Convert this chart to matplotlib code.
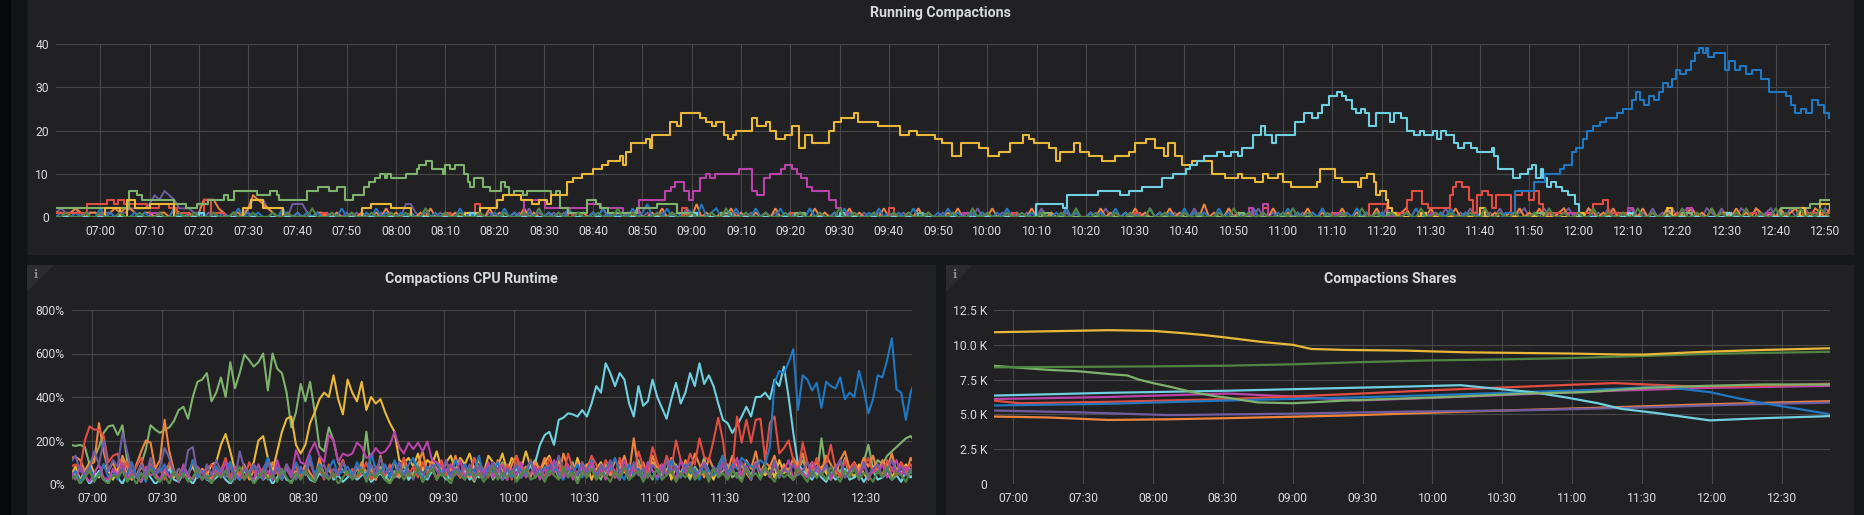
import numpy as np
import matplotlib
matplotlib.use('Agg')
import matplotlib.pyplot as plt
from matplotlib.patches import Rectangle, Polygon

plt.rcParams['font.family'] = ['Roboto', 'DejaVu Sans']

# ---------------- colours (Grafana classic palette) ----------------
C_GREEN = '#7EB26D'; C_YELLOW = '#EAB839'; C_CYAN = '#6ED0E0'; C_ORANGE = '#EF843C'
C_RED = '#E24D42'; C_BLUE = '#1F78C1'; C_PINK = '#BA43A9'; C_PURPLE = '#705DA0'; C_DKGREEN = '#508642'

# ---------------- DATA ----------------
# time is in minutes after 07:00
# ---- Running Compactions (step series: (minute, value) change points)
run_green = [(-9,2),(5.8,6),(7.5,5),(8.5,4),(15,3),(17.4,2),(19.6,3),(21.9,4),(25,5),(26,4),(27.2,6),(31.7,5),
             (34.5,6),(35.8,5),(36.2,4),(42,6),(44.2,7),(46.4,6),(48,7),(49.6,4),(51.3,5),(53.6,7),(54.5,8),(55.8,9),
             (56.7,10),(57.7,9),(58.2,10),(58.9,9),(62,10),(64.3,11),(64.7,12),(66,13),(67.4,11),(69.6,10),(70,12),
             (71,11),(71.9,12),(73.7,10),(74.6,8),(75,7),(75.9,9),(77.7,7),(79,6),(81.3,8),(82.1,7),(83,5),(83.9,6),
             (85.7,5),(86.6,6),(91.5,5),(92.4,6),(93.3,2),(95,1),(98.7,4),(100.5,3),(101.3,2),(103,1),(109,2),(113,3),
             (117,1),(121,0),(126,1),(128,0),(141,1),(143,0),(166,1),(167,0),(191,1),(193,0),(231,1),(232,0),(261,1),
             (263,0),(291,1),(293,0),(321,1),(323,0),(341,2),(347,3),(349,4),(351,4)]
run_yellow = [(-9,0),(1,2),(4,0),(5.5,4),(7,2),(10,3),(15,0),(29,2),(30.5,4),(33,2),(37,0),(53,2),(55,3),(59,2),(63,0),
              (74,1),(77,2),(80.4,4),(81.7,5),(85.3,4),(87.5,3),(89,4),(90.7,3),(91.5,5),(94.6,8),(96,9),(97.8,10),
              (100,11),(101.8,12),(103.1,13),(105.4,14),(106,12),(106.7,15),(107.6,17),(110.7,18),(111.6,16),(112,19),
              (115.6,22),(117.1,21),(117.9,24),(121.6,23),(122.9,22),(124.2,21),(125,22),(126.5,19),(127.4,18),(128.3,19),
              (129,20),(132.3,23),(133.2,21),(135,22),(135.9,20),(137.2,18),(139,19),(140.4,21),(141.7,16),(143,19),
              (144.4,17),(147.9,20),(148.8,22),(150.2,23),(152.9,24),(153.8,22),(157.8,21),(162.2,19),(164,20),
              (165.8,19),(169.4,18),(170.7,17),(172.9,14),(174.7,17),(178.3,16),(180.1,14),(182.3,15),(184.6,17),
              (187.2,19),(188.4,18),(189.5,17),(192.6,16),(193.9,13),(194.8,15),(197.5,17),(198.8,15),(200.6,14),
              (203.3,13),(206,14),(208.7,15),(210,17),(212.2,18),(214,16),(215.8,14),(216.7,17),(218,14),(219.4,12),
              (221.6,13),(225.6,10),(228.3,9),(230.9,10),(231.7,9),(234.3,8),(236,10),(237,9),(239,10),(239.9,8),
              (241.6,7),(246.8,8),(247.6,11),(249.8,11),(250.6,9),(251.9,8),(255.3,7),(255.8,9),(257.1,10),(258.4,8),
              (258.8,5),(259.6,6),(260.9,4),(261.4,2),(262.2,1),(263,0),(268,1),(269,0),(280,2),(281,0),(300,1),(301,0),
              (318,2),(319,0),(330,1),(331,0),(345,2),(346,0),(349,3),(351,2)]
run_pink = [(-9,0),(0,1),(1,0),(10,1),(12,0),(86,4),(90.2,2),(94.2,2),(98.7,3),(101.5,2),(106,1),(109.4,4),(111.3,4),
            (114.5,6),(115.8,7),(116.7,8),(118.5,6),(119.4,4),(120.3,6),(121.6,9),(122.9,10),(123.8,9),(124.7,10),
            (129.6,11),(132.3,6),(133.2,5),(134.6,9),(135.9,10),(138.1,11),(139,12),(140.4,11),(141.3,10),(142.1,9),
            (143.5,7),(144.4,6),(147.9,4),(149.3,2),(150.2,1),(151.5,0),(175,1),(176,0),(233,2),(234,0),(236,3),(237,0),
            (251,1),(252,0),(270,1),(271,0),(298,1),(299,0),(310,2),(311,0),(322,2),(323,0),(338,1),(339,0),(351,0)]
run_cyan = [(-9,0),(20,1),(21,0),(75,1),(76,0),(120,1),(121,0),(150,1),(151,0),(189.9,3),(195.3,2),(196.2,5),(202.4,6),
            (206.9,5),(208.7,6),(211.3,7),(215.4,9),(217.6,10),(220.3,11),(221.2,12),(222.5,13),(224,14),(226.6,15),
            (228,14),(229.5,15),(230.9,14),(231.7,16),(233.9,19),(235.6,21),(236.4,19),(237.7,17),(238.6,19),(242.5,22),
            (244.2,24),(245.9,23),(247,24),(248,26),(249.3,28),(251,29),(251.9,28),(252.8,27),(254.1,25),(254.9,24),
            (255.8,25),(256.6,24),(257.5,21),(258.8,24),(261.8,22),(262.6,24),(264,23),(265.2,20),(266.5,19),(267.8,20),
            (268.7,19),(270.4,20),(271.2,18),(272.1,20),(273,19),(274.7,17),(275.5,16),(276.8,17),(278.1,16),(279.4,15),
            (282.4,16),(282.8,14),(283.7,11),(286.7,9),(288,10),(289.7,11),(290.6,12),(291.4,9),(292.3,11),(292.7,9),
            (293.6,7),(294.4,8),(295.3,7),(296.6,6),(297.9,5),(299.2,3),(300,0),(310,1),(311,0),(330,1),(331,0),(351,0)]
run_red = [(-9,1),(-2.7,3),(1.3,4),(2.7,3),(3.6,4),(4.9,3),(9.4,2),(12,3),(14,2),(15.6,1),(18,0),(21,4),(22.5,1),(25,0),
           (45,1),(46,0),(70,1),(71,0),(76,3),(77,0),(95,1),(96,0),(118,2),(119,0),(140,1),(141,0),(160,2),(161,0),
           (185,1),(186,0),(210,1),(211,0),(236,2),(237,0),(250,1),(251,0),(257.5,3),(261,1),(265.2,4),(266.1,6),
           (268.2,3),(269.5,2),(273.8,5),(274.5,7),(275.1,8),(276.4,7),(277.7,4),(278.5,1),(279.4,5),(280.3,6),
           (281.5,5),(282.4,2),(283.3,5),(286.3,1),(287.1,5),(288.5,6),(290,4),(291,6),(291.9,3),(292.7,1),(303,3),
           (305,4),(306,1),(310,0),(320,1),(321,0),(335,1),(336,0),(345,2),(346,1),(351,1)]
run_blue = [(284,0),(285,1),(287.1,6),(291,8),(293.1,10),(296.2,11),(297,12),(298.7,15),(299.5,16),(300.9,18),(301.7,20),
            (303,21),(304.3,22),(305.6,23),(307.7,24),(309,25),(310.8,27),(311.6,29),(312.5,27),(313.3,26),(314.2,28),
            (315.3,27),(316.3,29),(317.2,31),(318.1,30),(318.9,32),(319.8,34),(320.6,33),(321.8,34),(322.8,36),
            (323.6,38),(324.5,39),(325.3,38),(325.8,39),(326.2,37),(327.5,38),(329.7,34),(330.5,36),(331.8,34),
            (332.7,35),(334,33),(335.2,34),(337,32),(338.7,29),(342.1,28),(343,26),(343.8,24),(345.1,25),(346.2,24),
            (347.3,27),(348.6,26),(349.8,24),(350.7,23),(351,23)]
# one value per minute, starting 06:51
run_purple_min = [1,2,1,1,2,0,1,1,1,0, 1,1,0,1,1,2,2,2,2,3, 5,4,6,5,4,2,2,2,1,1,
                  0,1,0,1,1,0,1,0,1,2, 4,4,4,2,1,0,1,0,3,3, 3,1,0,1,0,1,0,1,0,1,
                  0,1,0,1,0,0,1,0,1,0, 0,3,3,1,0,1,0,0,1,0, 1,0,0,1,0,1,0,0,1,0,
                  0,1,0,0,1,0,2,0,1,0, 0,1,0,1,0,0,1,0,0,1, 0,0,1,0,1,0,0,1,0,0,
                  1,0,0,1,0,1,0,0,2,0, 1,0,0,1,0,0,1,0,1,0, 0,1,0,0,1,0,1,0,0,1,
                  0,1,0,2,0,0,1,0,1,0, 0,1,0,0,1,0,0,1,0,1, 0,0,1,0,0,2,0,1,0,0,
                  1,0,1,0,0,1,0,2,0,1, 0,0,1,0,1,0,0,1,0,0, 2,0,1,0,0,1,0,1,0,0,
                  1,0,0,2,0,1,0,0,1,0, 1,0,2,0,1,0,0,1,0,1, 0,2,0,1,0,0,1,0,2,0,
                  1,0,1,0,2,0,0,1,0,1, 0,2,0,1,0,1,0,2,0,1, 0,1,0,0,2,0,1,0,1,0,
                  2,0,1,0,1,0,2,0,1,0, 1,0,2,0,0,1,0,2,0,1, 0,1,0,2,0,1,0,1,2,0,
                  1,0,2,0,1,0,1,2,0,1, 0,2,0,1,0,2,0,1,0,1, 2,0,1,0,2,0,1,0,2,0,
                  1,2,0,1,0,2,1,0,2,0, 1,0,2,1,0,2,0,1,2,0, 1,0,2,0,1,2,0,1,0,2,1]
run_orange_min = [1,1,0,1,2,1,0,1,1,0, 0,1,2,1,2,2,1,0,1,1, 0,1,1,0,2,1,0,1,0,1,
                  4,4,4,2,1,0,1,1,0,2, 5,4,3,2,1,0,0,1,0,1, 0,1,0,1,1,0,0,1,0,0,
                  1,0,1,0,0,1,0,2,0,1, 0,0,1,0,1,0,2,0,0,1, 0,1,0,0,1,0,1,0,2,0,
                  1,0,0,1,0,2,0,1,0,0, 1,0,1,0,2,0,0,1,0,1, 0,2,0,1,0,0,1,0,2,0,
                  0,1,0,2,0,1,0,0,1,0, 3,0,1,0,0,1,0,2,0,1, 0,0,1,0,1,0,2,0,0,1,
                  0,1,0,0,2,0,1,0,1,0, 0,2,0,1,0,0,1,0,2,0, 1,0,0,1,0,2,0,1,0,0,
                  0,1,0,2,0,0,1,0,1,0, 2,0,0,1,0,1,0,0,2,0, 1,0,1,0,0,2,0,1,0,0,
                  1,0,2,0,1,0,0,1,0,2, 0,1,0,0,1,0,2,0,1,0, 0,1,0,3,0,1,0,0,2,0,
                  1,0,0,2,0,1,0,2,0,0, 1,0,1,0,2,0,0,1,0,1, 0,2,0,0,1,0,1,0,2,0,
                  0,1,0,1,2,0,0,1,0,2, 0,1,0,0,2,0,1,0,1,0, 2,0,1,0,0,1,0,2,0,1,
                  0,2,0,1,0,1,2,0,0,1, 0,2,1,0,1,0,2,0,1,0, 1,0,2,0,1,0,0,2,0,1,
                  0,1,2,0,1,0,2,0,1,1, 0,2,0,1,0,2,1,0,1,0, 2,0,1,2,0,1,0,2,1,0,2]
run_blue_min = [0,1,0,0,1,0,1,0,0,2, 0,1,0,1,0,0,1,0,1,0, 0,1,0,0,2,0,1,0,0,1,
                0,0,1,0,1,0,0,2,0,1, 0,1,0,0,1,0,2,0,0,1, 0,1,0,1,0,0,1,0,2,0,
                1,0,0,1,0,2,0,1,0,0, 1,0,1,0,0,2,0,1,0,1, 0,0,2,0,1,0,1,0,0,1,
                0,2,0,1,0,0,1,0,2,0, 1,0,1,0,2,0,1,0,0,1, 0,2,0,1,0,1,0,2,0,1,
                3,0,1,0,2,0,1,0,2,1, 0,3,0,1,2,0,1,0,2,0, 1,0,2,0,1,0,0,2,0,1,
                0,1,0,2,0,1,0,0,1,0, 2,0,1,0,0,1,0,2,0,1, 0,1,0,0,2,0,1,0,0,1,
                0,2,0,1,0,0,1,0,1,0, 0,1,0,2,0,1,0,0,1,0, 1,0,0,1,0,2,0,1,0,0,
                1,0,1,0,0,2,0,1,0,1, 0,0,2,0,1,0,1,0,0,2, 0,1,0,1,0,0,2,0,1,0,
                0,1,0,2,0,1,0,0,1,0, 2,0,1,0,0,1,0,2,0,1, 0,0,1,0,2,0,1,0,0,1,
                0,1,0,0,1,0,2,0,1,0, 0,1,0,2,0,0,1,0,1,0, 0]
run_dkgreen_min = [0,0,1,0,0,0,1,0,0,1, 0,0,0,1,0,0,0,1,0,0, 0,1,0,0,0,1,0,0,1,0,
                   0,0,1,0,0,0,1,0,0,0, 1,0,0,0,1,0,0,1,0,0, 0,0,2,0,0,0,1,0,0,0,
                   1,0,0,0,1,0,0,0,1,0, 0,1,0,0,0,2,0,0,0,1, 0,0,1,0,0,0,1,0,0,0,
                   0,1,0,0,0,1,0,0,2,0, 0,0,1,0,0,0,1,0,0,0, 1,0,0,0,2,0,0,1,0,0,
                   0,0,1,0,0,1,0,0,0,1, 0,0,0,1,0,0,2,0,0,0, 1,0,0,0,1,0,0,0,1,0,
                   0,1,0,0,0,1,0,0,0,2, 0,0,1,0,0,0,1,0,0,0, 1,0,0,1,0,0,0,1,0,0,
                   0,0,1,0,0,0,2,0,0,1, 0,0,0,1,0,0,1,0,0,0, 1,0,0,0,1,0,0,2,0,0,
                   0,1,0,0,0,1,0,0,1,0, 0,0,2,0,0,1,0,0,0,1, 0,0,1,0,0,0,1,0,0,2,
                   0,0,1,0,0,1,0,0,0,1, 0,2,0,0,1,0,0,0,1,0, 0,1,0,0,0,2,0,0,1,0,
                   0,1,0,0,1,0,0,2,0,0, 1,0,0,1,0,0,0,1,0,0, 2,0,0,1,0,0,1,0,0,0,
                   1,0,0,2,0,0,1,0,0,1, 0,0,2,0,0,1,0,0,1,0, 0,2,0,0,1,0,0,1,0,0,
                   2,0,0,1,0,0,2,0,1,0, 0,1,0,2,0,0,1,0,0,2, 0,1,0,0,2,0,1,0,2,1,0]

# ---- Compactions CPU Runtime (%), one value every 2 minutes starting 06:51
cpu_green = [180,175,180,170,90,120,170,235,265,270,225,270,110,60,40,90,160,270,250,235,250,260,290,340,355,300,400,
             470,480,510,380,420,490,400,560,440,510,595,570,540,560,600,430,600,530,510,420,260,330,460,380,470,330,
             170,150,260,200,100,60,40,
             30,70,50,240,60,20,80,40,10,60, 30,90,20,50,70,10,40,80,20,60, 50,20,70,30,90,40,10,60,30,80,
             20,50,100,30,60,20,70,40,90,30, 60,20,50,80,30,70,40,100,20,60, 30,80,50,20,90,40,60,20,70,30,
             50,110,30,60,20,80,40,70,30,90, 40,60,20,80,50,120,30,70,40,60, 90,30,50,20,80,40,100,30,60,50,
             70,30,90,40,20,60,110,50,80,30, 210,60,40,90,50,120,30,80,60,100, 180,70,110,90,130,150,170,190,210,220,195]
cpu_yellow = [40,80,20,60,100,50,30,90,60,20, 70,110,40,60,30,80,50,90,40,20, 60,90,30,70,40,50,80,30,60,40, 90,
              100,180,230,150,60,40,80,50,100,200, 220,120,60,150,240,300,310,180,140,180, 280,330,390,420,400,500,390,
              320,480,420, 380,470,340,400,370,390,330,280,240,110, 95,
              120,80,140,60,110,90,150,70,100,130, 60,120,90,140,70,110,50,130,100,80, 140,60,120,90,70,150,80,110,60,100,
              130,
              60,110,30,80,40,120,50,90,20,70, 100,40,80,30,110,60,20,90,50,70, 30,100,60,40,120,20,80,50,90,30,
              70,40,110,60,20,80,130,40,70,30, 90,50,20,100,60,40,80,30,110,50, 70,20,90,40,60,100,30,80,50,20,
              60,110,40,70,30,90,50,20,80,60, 40,100,30,70,50,90,60,80]
cpu_cyan = [20,50,10,40,0,30,60,20,10,40, 30,0,50,20,40,10,60,30,0,20, 40,70,20,10,50,30,0,40,60,20,
            10,30,50,20,0,40,20,60,30,10, 50,20,40,0,30,60,20,10,40,30, 60,20,10,50,30,70,20,40,10,30,
            50,20,40,60,10,30,50,20,70,40, 30,60,20,50,100,40,20,60,30,50, 20,40,70,30,60,20,50,30,40,80,
            30,60,20,50,40,70,30,60,
            80,100,180,225,240,180,295,305,325,320,310,340,310,370,450,420,555,510,450,510,480,370,310,450,360,380,
            480,400,350,300,390,465,370,420,510,450,555,460,500,450,370,295,280,235,270,310,355,310,400,400,420,390,
            480,450,540,400,235,90,65,
            40,20,60,30,10,50,20,40,70,20,30,50,10,40,60,20,30,50,20,40,10,60,30,50]
cpu_orange = [120,125,110,60,90,100,280,150,60,100, 40,130,80,20,90,150,200,190,70,110, 295,150,60,20,80,40,100,30,70,50,
              20,80,40,60,100,30,50,90,20,60, 40,70,30,100,50,20,80,40,60,30, 90,50,20,120,40,70,30,60,110,40,
              60,30,100,50,80,20,130,40,70,100, 30,120,60,40,90,150,50,110,70,40, 100,60,130,40,80,30,120,70,50,90,
              40,110,60,20,90,130,50,80,30,100, 60,120,40,90,30,140,70,50,100,40, 80,120,30,90,60,40,110,70,130,50,
              210,60,100,40,130,70,90,50,120,80, 40,110,60,140,90,30,120,70,50,100, 60,130,80,40,110,70,150,50,100,80,
              130,40,90,60,120,80,140,50,70,100, 60,130,90,40,110,150,70,100,60,120, 80,130,50,110,70,140,60,100,40,120,90]
cpu_red = [80,90,70,200,265,250,250,220,100,130, 140,60,100,40,80,120,30,90,50,70, 20,100,60,40,80,30,110,50,20,70,
           90,40,60,120,30,80,50,20,100,60, 30,70,110,40,60,20,90,50,80,30, 60,100,40,70,20,90,30,60,110,40,
           70,30,50,100,20,80,60,40,90,30, 60,120,40,80,30,100,50,70,20,110, 40,90,60,30,80,50,120,40,70,30,
           100,60,40,90,20,130,70,50,110,40, 80,30,120,60,90,40,140,70,50,100, 60,130,90,40,110,70,30,120,60,90,
           40,150,80,60,170,100,50,130,70,200, 110,60,140,90,210,125,110,200,305,200, 30,60,310,190,295,190,295,300,110,280,
           310,140,165,200,110,50,190,100,60,120, 40,90,180,70,30,110,60,100,40,80, 120,50,90,30,110,70,40,100,60,90,50]
cpu_blue = [30,60,10,50,80,20,40,90,30,60, 20,70,40,100,30,50,10,80,40,60, 90,30,50,20,70,40,110,30,60,20,
            50,80,30,60,100,40,20,70,50,90, 30,60,120,40,80,20,70,30,100,50, 60,130,40,90,30,70,110,40,60,80,
            40,100,60,30,140,70,50,90,30,110, 60,40,90,120,50,30,80,60,100,40, 70,30,110,50,90,40,60,130,30,80,
            50,100,40,70,30,90,60,40,110,50, 30,80,60,100,40,20,70,50,90,30, 60,110,40,80,30,70,120,50,20,90,
            40,70,30,100,60,20,80,40,110,60, 30,90,50,70,20,100,60,40,80,130, 50,90,70,120,
            100,80,80,110,90,170,465,520,510,560,620,340,500,480,430,465,350,470,450,440,490,390,420,400,520,435,325,
            390,500,490,570,670,435,420,295,420,480]
cpu_pink = [60,20,80,40,10,50,90,30,20,70, 40,100,20,60,30,10,80,40,50,20, 70,30,60,10,90,40,20,80,50,30,
            10,60,40,100,20,50,30,70,40,20, 90,30,60,20,110,40,70,30,
            155,100,90,150,190,130,100,225,200,100,140,130,140,190,170,120,130,165,140,150,180,240,170,140,190,160,190,
            150,195,110,100,80,
            60,90,40,110,30,70,20,80,50,100, 30,60,90,20,70,40,100,30,50,80, 20,70,40,110,60,30,90,20,50,80,
            40,100,30,70,20,90,60,40,110,30, 80,50,20,100,60,30,90,40,70,20, 110,50,80,30,60,100,20,70,40,90,
            30,60,120,40,80,20,100,50,70,30, 90,40,60,110,20,80,50,30,100,60, 40,90,20,70,110,30,60,80,40,100,
            20,70,50,90,30,60,110,40,80,50,70]
cpu_purple = [100,130,60,40,80,150,90,200,60,110, 80,235,150,60,30,90,40,120,50,80, 165,120,40,70,30,155,170,50,20,90,
              40,110,60,30,80,20,150,70,40,90, 60,20,100,40,70,30,90,50,20,80, 40,110,30,60,90,20,70,40,100,50,
              30,80,60,20,90,40,120,50,70,30, 100,40,60,20,80,50,30,90,60,40, 110,30,70,50,20,90,40,80,30,60,
              100,40,20,70,50,90,30,60,110,40, 70,20,90,50,130,60,30,80,40,100, 50,70,30,90,60,110,40,20,80,50,
              100,40,70,30,90,60,20,110,50,80, 30,70,100,40,60,90,20,80,50,110, 40,70,30,100,60,20,90,50,80,40,
              110,30,70,50,90,40,60,100,30,80, 50,90,40,70,110,30,60,80,20,100, 40,70,90,30,60,110,50,80,40,70,30]
cpu_dkgreen = [20,40,0,30,60,10,50,20,0,40, 30,60,10,40,0,50,20,70,30,10, 40,0,60,20,50,10,30,70,20,40,
               0,50,30,60,10,40,80,20,50,0, 30,60,20,40,10,70,30,0,50,20, 60,30,10,80,40,20,50,0,30,60,
               20,40,70,10,50,30,60,20,0,40, 60,20,50,30,80,10,40,70,20,50, 30,0,60,40,20,70,30,50,10,40,
               80,20,50,30,60,10,40,70,20,30, 50,10,60,40,20,80,30,50,0,60, 30,70,20,50,40,10,60,30,80,20,
               40,60,10,50,30,70,20,40,60,10, 50,30,80,20,40,60,10,70,30,50, 20,60,40,10,70,30,50,20,80,40,
               10,60,30,50,20,70,40,10,60,30, 50,20,80,40,10,60,30,70,20,50, 40,10,60,30,80,20,50,40,10,60,30]

# ---- Compactions Shares (thousands), (minute, value) points
sh_yellow = [(-9,10.9),(41,11.05),(60,11.0),(72,10.85),(82,10.7),(90,10.55),(107,10.2),(120,10.0),(128,9.7),(143,9.63),
             (169,9.58),(194,9.46),(240,9.37),(261,9.3),(271,9.3),(297,9.5),(322,9.63),(351,9.75)]
sh_dkgreen = [(-9,8.38),(60,8.45),(92,8.5),(120,8.6),(148,8.75),(179,8.88),(210,8.95),(240,9.05),(271,9.2),(299,9.35),
              (351,9.5)]
sh_green = [(-9,8.5),(15,8.2),(28,8.1),(41,7.9),(49,7.8),(54,7.5),(60,7.25),(67,7.0),(77,6.6),(87,6.3),(92,6.2),
            (105,5.86),(120,5.8),(143,6.0),(169,6.15),(194,6.3),(220,6.5),(246,6.6),(271,6.9),(297,7.05),(322,7.15),
            (351,7.15)]
sh_cyan = [(-9,6.35),(41,6.55),(92,6.7),(143,6.9),(169,7.0),(192,7.1),(210,6.8),(223,6.6),(238,6.2),(251,5.8),
           (261,5.4),(276,5.1),(289,4.8),(299,4.57),(322,4.73),(351,4.88)]
sh_blue = [(-9,5.64),(41,5.76),(92,6.0),(143,6.2),(194,6.45),(246,6.75),(279,7.0),(286,6.85),(299,6.6),(310,6.2),
           (322,5.8),(335,5.45),(351,5.0)]
sh_red = [(-9,6.0),(3,5.8),(41,5.9),(92,6.1),(143,6.45),(182,6.75),(220,7.0),(258,7.25),(279,7.1),(292,7.0),(322,7.05),
          (351,7.2)]
sh_pink = [(-9,6.1),(41,6.25),(92,6.5),(118,6.3),(148,6.0),(182,6.2),(220,6.45),(258,6.7),(297,6.9),(351,7.05)]
sh_purple = [(-9,5.28),(28,5.15),(67,4.95),(118,5.05),(169,5.2),(220,5.3),(271,5.5),(310,5.7),(351,5.85)]
sh_orange = [(-9,4.85),(15,4.78),(41,4.6),(67,4.65),(92,4.73),(143,4.92),(194,5.2),(246,5.45),(297,5.72),(351,5.95)]

top_yticks = [0, 10, 20, 30, 40]
cpu_yticks = [0, 200, 400, 600, 800]
sh_yticks = [0, 2.5, 5.0, 7.5, 10.0, 12.5]
sh_ylabels = ['0', '2.5 K', '5.0 K', '7.5 K', '10.0 K', '12.5 K']

# ---------------- FIGURE ----------------
W, H = 1864, 515
fig = plt.figure(figsize=(W / 100, H / 100), dpi=100, facecolor='#161719')

BG_PANEL = '#212124'
TXT = '#d8d9da'
GRID = '#48484b'


def rect(x0, y0, x1, y1, color, z=0):
    fig.add_artist(Rectangle((x0 / W, 1 - y1 / H), (x1 - x0) / W, (y1 - y0) / H,
                             transform=fig.transFigure, facecolor=color, edgecolor='none', zorder=z))


rect(0, 0, 11, H, '#08090a')
rect(11, 0, 27, H, '#121315')
rect(28, 0, 1854, 255, BG_PANEL)
rect(27, 265, 936, H, BG_PANEL)
rect(946, 265, 1854, H, BG_PANEL)
for x0 in (27, 946):
    fig.add_artist(Polygon([(x0 / W, 1 - 265 / H), ((x0 + 27) / W, 1 - 265 / H), (x0 / W, 1 - 292 / H)],
                           closed=True, transform=fig.transFigure, facecolor='#2c2c2f', edgecolor='none'))
    fig.text((x0 + 9) / W, 1 - 274 / H, 'i', family='DejaVu Serif', weight='bold', fontsize=8,
             color='#8e8f92', ha='center', va='center')

fig.text(940 / W, 1 - 13 / H, 'Running Compactions', ha='center', va='center', fontsize=10.2,
         color=TXT, weight='bold')
fig.text(471 / W, 1 - 279 / H, 'Compactions CPU Runtime', ha='center', va='center', fontsize=10.2,
         color=TXT, weight='bold')
fig.text(1390 / W, 1 - 279 / H, 'Compactions Shares', ha='center', va='center', fontsize=10.2,
         color=TXT, weight='bold')


def add_ax(x0, y0, x1, y1):
    ax = fig.add_axes([x0 / W, 1 - y1 / H, (x1 - x0) / W, (y1 - y0) / H])
    ax.set_facecolor('none')
    for s in ax.spines.values():
        s.set_visible(False)
    ax.tick_params(length=0, colors=TXT, labelsize=8.7)
    ax.tick_params(axis='y', pad=5)
    ax.tick_params(axis='x', pad=6)
    ax.grid(True, color=GRID, linewidth=0.8)
    ax.set_axisbelow(True)
    return ax


def hhmm(m):
    tot = 7 * 60 + int(round(m))
    return f'{tot // 60:02d}:{tot % 60:02d}'


# ---- top panel
ax1 = add_ax(56, 44, 1830, 217)
for lst, col in [(run_purple_min, C_PURPLE), (run_orange_min, C_ORANGE), (run_blue_min, C_BLUE)]:
    t = -9 + np.arange(len(lst))
    ax1.plot(t, lst, color=col, lw=1.4, solid_joinstyle='miter')
for pts, col in [(run_red, C_RED), (run_pink, C_PINK), (run_green, C_GREEN), (run_yellow, C_YELLOW),
                 (run_cyan, C_CYAN), (run_blue, C_BLUE)]:
    t, v = zip(*pts)
    ax1.step(t, v, where='post', color=col, lw=1.5)
t = -9 + np.arange(len(run_dkgreen_min))
ax1.plot(t, run_dkgreen_min, color=C_DKGREEN, lw=1.4)
ax1.set_xlim(-9, 351)
ax1.set_ylim(0, 40)
ax1.set_yticks(top_yticks)
ax1.set_yticklabels([str(v) for v in top_yticks])
top_xt = list(range(0, 351, 10))
ax1.set_xticks(top_xt)
ax1.set_xticklabels([hhmm(m) for m in top_xt])

# ---- CPU runtime panel
ax2 = add_ax(71.5, 310, 912, 484)
for lst, col in [(cpu_green, C_GREEN), (cpu_yellow, C_YELLOW), (cpu_cyan, C_CYAN), (cpu_orange, C_ORANGE),
                 (cpu_red, C_RED), (cpu_blue, C_BLUE), (cpu_pink, C_PINK), (cpu_purple, C_PURPLE),
                 (cpu_dkgreen, C_DKGREEN)]:
    t = -9 + 2 * np.arange(len(lst))
    ax2.plot(t, lst, color=col, lw=1.5)
ax2.set_xlim(-8.7, 349.6)
ax2.set_ylim(0, 800)
ax2.set_yticks(cpu_yticks)
ax2.set_yticklabels([f'{v}%' for v in cpu_yticks])
bot_xt = list(range(0, 331, 30))
ax2.set_xticks(bot_xt)
ax2.set_xticklabels([hhmm(m) for m in bot_xt])

# ---- Shares panel
ax3 = add_ax(994, 310, 1829.5, 484)
for pts, col in [(sh_orange, C_ORANGE), (sh_purple, C_PURPLE), (sh_pink, C_PINK), (sh_red, C_RED),
                 (sh_blue, C_BLUE), (sh_cyan, C_CYAN), (sh_green, C_GREEN), (sh_dkgreen, C_DKGREEN),
                 (sh_yellow, C_YELLOW)]:
    t, v = zip(*pts)
    ax3.plot(t, v, color=col, lw=1.6)
ax3.set_xlim(-8.2, 350.4)
ax3.set_ylim(0, 12.5)
ax3.set_yticks(sh_yticks)
ax3.set_yticklabels(sh_ylabels)
ax3.set_xticks(bot_xt)
ax3.set_xticklabels([hhmm(m) for m in bot_xt])

fig.savefig('out.png', dpi=100, facecolor=fig.get_facecolor())
